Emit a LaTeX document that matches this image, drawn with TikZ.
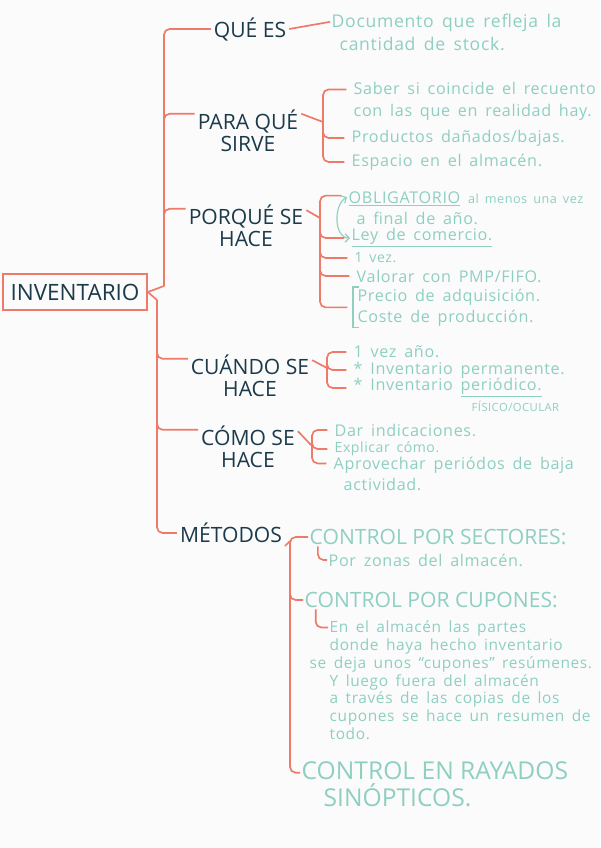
\documentclass[tikz,border=0pt]{standalone}
\usepackage{fontspec}
\setmainfont{Open Sans}
\newfontfamily\mano[LetterSpace=4, WordSpace=1.6]{Open Sans}
\usepackage{xcolor}
\usepackage{tikz}
\usetikzlibrary{arrows.meta, positioning, calc}

\definecolor{rojo}{HTML}{EE7B69}
\definecolor{tinta}{HTML}{1B3A4A}
\definecolor{menta}{HTML}{8ECFC2}
\definecolor{papel}{HTML}{FBFBFB}

\begin{document}
\begin{tikzpicture}[x=0.025cm, y=-0.025cm,
    rama/.style={draw=rojo, line width=1.2pt, rounded corners=4pt},
    llave/.style={rama, shorten >=4pt},
    tema/.style={text=tinta, font=\fontsize{15}{16}\selectfont, align=center, inner sep=2pt},
    idea/.style={text=menta, font=\mano\fontsize{11.5}{15}\selectfont, align=left, inner sep=1pt},
    grupo/.style={text=menta, font=\fontsize{15}{19}\selectfont, align=left, inner sep=1pt},
    trazo/.style={draw=menta, line width=0.8pt}]
    \useasboundingbox[fill=papel] (0,0) rectangle (600,848);

    \node[draw=rojo, line width=1.2pt, text=tinta, font=\fontsize{16}{16}\selectfont, minimum width=3.6cm, minimum height=0.9cm] (inv) at (75,292) {INVENTARIO};

    \node[tema] (que) at (250,29) {QUÉ ES};
    \node[tema] (para) at (248,131) {PARA QUÉ\\SIRVE};
    \node[tema] (porque) at (246,226) {PORQUÉ SE\\HACE};
    \node[tema] (cuando) at (250,376) {CUÁNDO SE\\HACE};
    \node[tema] (como) at (248,447) {CÓMO SE\\HACE};
    \node[tema] (met) at (231,533) {MÉTODOS};

    % que es / para que sirve
    \node[idea, anchor=north west, font=\mano\fontsize{12.5}{16.5}\selectfont] (doc) at (330,12) {Documento que refleja la\\\hspace*{0.2cm}cantidad de stock.};
    \node[idea, anchor=north west] (saber) at (352,81) {Saber si coincide el recuento\\con las que en realidad hay.};
    \node[idea, anchor=west] (prod) at (350,138) {Productos dañados/bajas.};
    \node[idea, anchor=west] (esp) at (350,162) {Espacio en el almacén.};

    % porque se hace
    \node[idea, anchor=north west] (obl) at (347,190) {\underline{OBLIGATORIO} {\fontsize{9}{10}\selectfont al menos una vez}\\\hspace*{0.2cm}a final de año.};
    \node[idea, anchor=west] (ley) at (350,238) {\underline{Ley de comercio.}};
    \node[idea, anchor=west, font=\mano\fontsize{10}{12}\selectfont] (vez) at (353,258) {1 vez.};
    \node[idea, anchor=west] (valor) at (355,276) {Valorar con PMP/FIFO.};
    \node[idea, anchor=north west, inner xsep=3pt] (precio) at (353,287) {Precio de adquisición.\\Coste de producción.};
    \draw[trazo] ([xshift=4pt]precio.north west) -- (precio.north west) -- (precio.south west) -- ([xshift=4pt]precio.south west);

    % cuando se hace
    \node[idea, anchor=west] (anio) at (352,352) {1 vez año.};
    \node[idea, anchor=west] (perm) at (352,370) {* Inventario permanente.};
    \node[idea, anchor=west] (peri) at (352,388) {* Inventario \underline{periódico.}};
    \node[idea, anchor=west, font=\mano\fontsize{8}{9}\selectfont] (fis) at (470,406) {FÍSICO/OCULAR};

    % como se hace
    \node[idea, anchor=west] (dar) at (333,430) {Dar indicaciones.};
    \node[idea, anchor=west, font=\mano\fontsize{10}{12}\selectfont] (expl) at (333,449) {Explicar cómo.};
    \node[idea, anchor=north west] (aprov) at (332,455) {Aprovechar periódos de baja\\\hspace*{0.25cm}actividad.};

    % metodos
    \node[grupo, anchor=west] (sect) at (308,537) {CONTROL POR SECTORES:};
    \node[idea, anchor=west] (zonas) at (327,560) {Por zonas del almacén.};
    \node[grupo, anchor=west] (cup) at (303,600) {CONTROL POR CUPONES:};
    \node[idea, anchor=north west, font=\mano\fontsize{11}{12.7}\selectfont] (cupt) at (328,619) {En el almacén las partes\\donde haya hecho inventario\\\hspace*{-0.5cm}se deja unos “cupones” resúmenes.\\Y luego fuera del almacén\\a través de las copias de los\\cupones se hace un resumen de\\todo.};
    \node[grupo, anchor=north west, font=\fontsize{17.5}{19}\selectfont] (rayados) at (300,760) {CONTROL EN RAYADOS\\\hspace*{0.55cm}SINÓPTICOS.};

    % tronco
    \coordinate (ja) at (164,286);
    \coordinate (jb) at (157,300);
    \draw[rama] (inv.east) -- (ja);
    \draw[rama] (inv.east) -- (jb);
    \draw[rama] (ja) |- (que.west);
    \draw[rama] (ja) |- ([yshift=-5pt]para.north west);
    \draw[rama] (ja) |- ([yshift=-5pt]porque.north west);
    \draw[rama] (jb) |- ([yshift=-5pt]cuando.north west);
    \draw[rama] (jb) |- ([yshift=-5pt]como.north west);
    \draw[rama] (jb) |- (met.west);

    \draw[rama] (que.east) -- ([yshift=-7pt]doc.north west);

    \coordinate (bpara) at (323,122);
    \draw[rama] ([yshift=-5pt]para.north east) -- (bpara);
    \draw[llave] (bpara) |- ([yshift=-6pt]saber.north west);
    \draw[llave] (bpara) |- (prod.west);
    \draw[llave] (bpara) |- (esp.west);

    \coordinate (bporq) at (320,218);
    \draw[rama] ([yshift=-6pt]porque.north east) -- (bporq);
    \draw[llave] (bporq) |- ([yshift=-4pt]obl.north west);
    \draw[llave] (bporq) |- (ley.west);
    \draw[llave] (bporq) |- (vez.west);
    \draw[llave] (bporq) |- (valor.west);
    \draw[llave] (bporq) |- (precio.west);
    \draw[trazo, {Straight Barb[length=3pt]}-{Straight Barb[length=3pt]}] ([yshift=-5pt]obl.north west) to[out=210, in=180] (ley.west);

    \coordinate (bcuan) at (327,368);
    \draw[rama] ([yshift=-6pt]cuando.north east) -- (bcuan);
    \draw[llave] (bcuan) |- (anio.west);
    \draw[llave] (bcuan) |- (perm.west);
    \draw[llave] (bcuan) |- (peri.west);

    \coordinate (bcomo) at (312,446);
    \draw[rama] ([yshift=-6pt]como.north east) -- (bcomo);
    \draw[llave] (bcomo) |- (dar.west);
    \draw[llave] (bcomo) |- (expl.west);
    \draw[llave] (bcomo) |- ([yshift=-6pt]aprov.north west);

    \coordinate (bmet) at (290,541);
    \draw[rama] (met.south east) -- (bmet);
    \draw[rama] (bmet) |- (sect.west);
    \draw[rama] (bmet) |- (cup.west);
    \draw[rama] (bmet) |- ([yshift=-9pt]rayados.north west);
    \draw[rama] ([xshift=7pt]sect.south west) |- (zonas.west);
    \draw[rama] ([xshift=9pt]cup.south west) |- ([yshift=-6pt]cupt.north west);
\end{tikzpicture}
\end{document}
